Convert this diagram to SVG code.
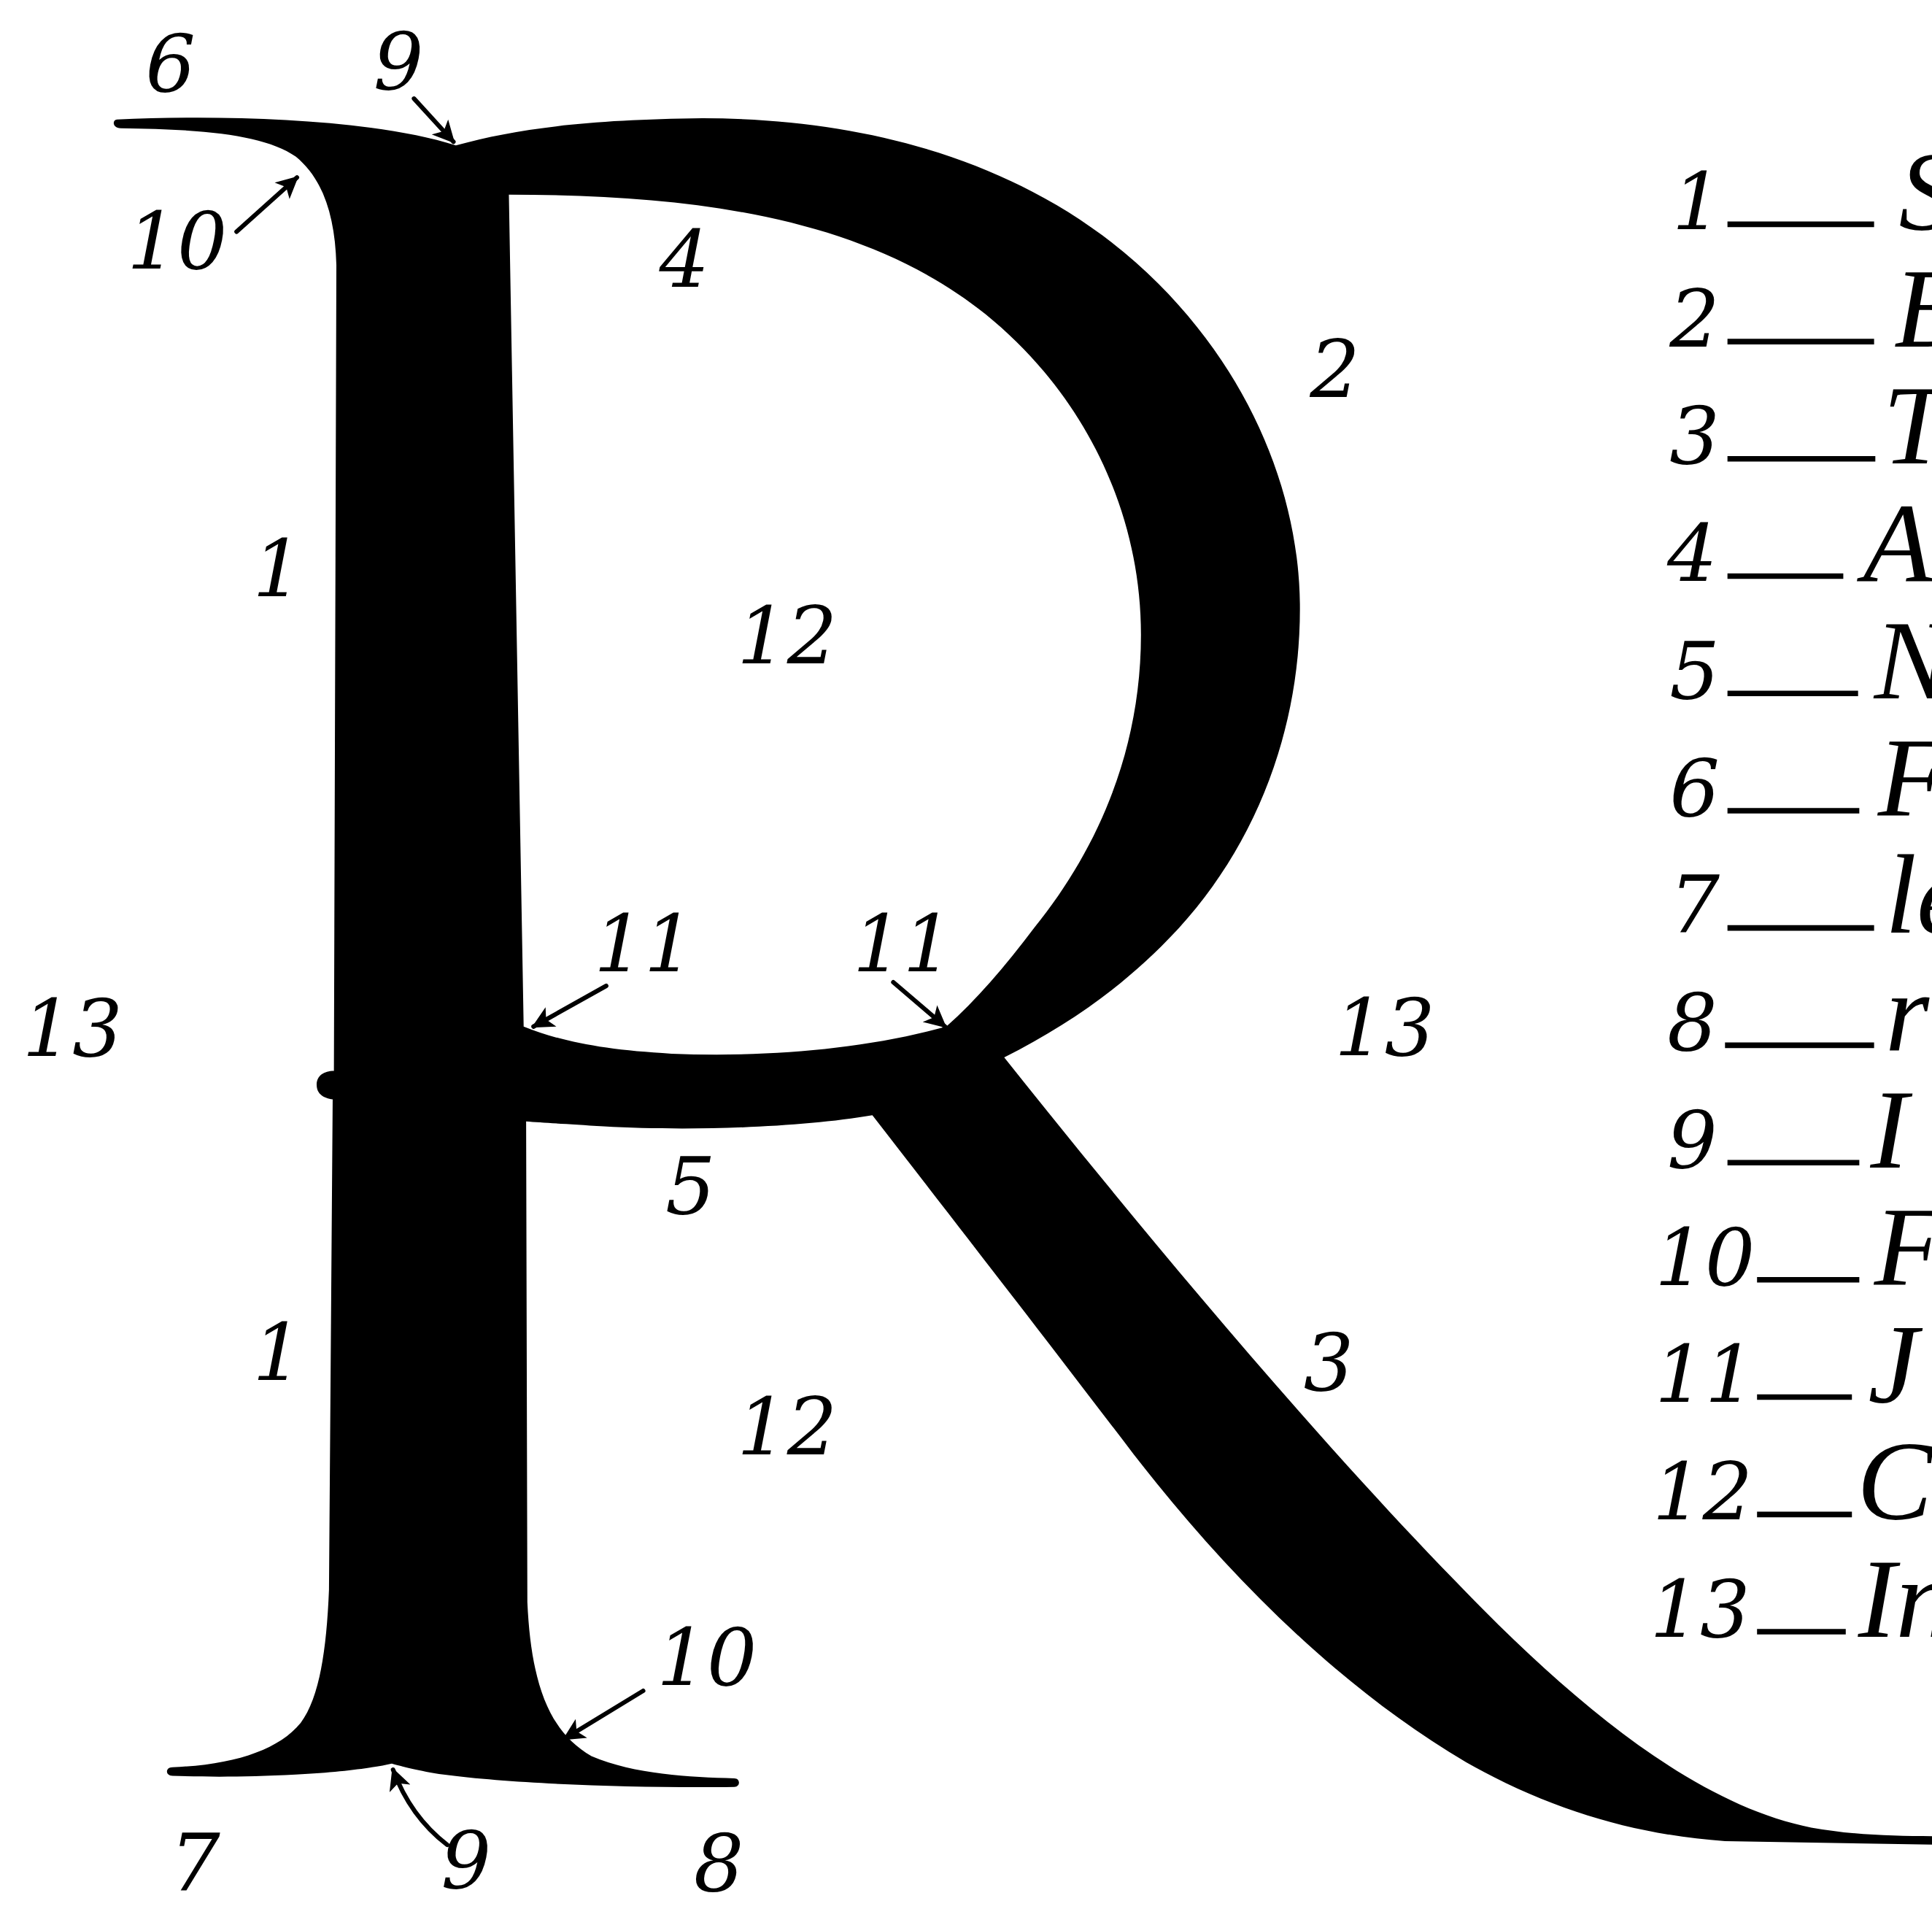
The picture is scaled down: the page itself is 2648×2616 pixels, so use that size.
<svg xmlns="http://www.w3.org/2000/svg" width="2648" height="2616" viewBox="0 0 2648 2616">
<defs>
<style>
.lbl{font-family:"DejaVu Serif","Liberation Serif",serif;font-style:italic;font-size:64px;fill:#000}
.leg{font-family:"Liberation Serif","DejaVu Serif",serif;font-style:italic;font-size:92px;fill:#000}
.arr{fill:none;stroke:#000;stroke-width:3.6;stroke-linecap:round}
.dash{stroke:#000;stroke-width:4.5;stroke-linecap:butt}
</style>
<marker id="ah" viewBox="0 0 10 10" refX="9" refY="5" markerWidth="6.5" markerHeight="5" orient="auto" markerUnits="strokeWidth">
<path d="M0,0 L10,5 L0,10 L2.5,5 z" fill="#000"/>
</marker>
</defs>
<rect width="2648" height="2616" fill="#fff"/>
<g transform="scale(1.68878)">
<g id="letter-R">
<path fill="#000" fill-rule="evenodd" d="M 95,97 C 180,93 300,96 370,118 C 420,104 480,97 570,96 C 720,96 850,140 940,230 C 1015,305 1054,400 1055,490 C 1056,590 1020,685 955,755 C 915,798 870,830 815,858 C 940,1015 1075,1175 1190,1292 C 1285,1390 1380,1465 1470,1483 C 1510,1490 1545,1490 1580,1490 L 1580,1497 L 1400,1494 C 1330,1489 1260,1470 1190,1430 C 1080,1365 990,1270 920,1180 C 840,1075 770,985 708,905 C 650,915 560,918 490,914 C 460,912 440,911 427,910 L 428,1300 C 431,1365 445,1405 480,1425 C 515,1440 560,1442 596,1443 C 601,1443 601,1450 596,1450 C 520,1451 420,1448 360,1440 C 340,1437 325,1433 318,1431 C 305,1434 280,1438 240,1440 C 200,1442 170,1442 140,1441 C 134,1441 134,1434 140,1434 C 190,1432 226,1420 244,1398 C 259,1378 265,1340 267,1290 L 270,892 C 263,891 257,888 257,880 C 257,873 263,869 271,869 L 273,215 C 272,175 262,145 240,127 C 215,110 170,105 98,104 C 91,104 91,97 95,97 Z M 413,158 C 560,158 700,175 800,255 C 880,320 926,415 926,515 C 926,610 890,690 840,752 C 815,785 792,812 768,833 C 700,852 620,858 545,855 C 490,852 455,845 425,833 Z"/>
</g>
<g id="connectors">
<path id="arrow-9-top" class="arr" marker-end="url(#ah)" d="M 336,80 L 368,115"/>
<path id="arrow-10-top" class="arr" marker-end="url(#ah)" d="M 192,188 L 241,144"/>
<path id="arrow-11-left" class="arr" marker-end="url(#ah)" d="M 492,800 L 433,833"/>
<path id="arrow-11-right" class="arr" marker-end="url(#ah)" d="M 725,797 L 767,833"/>
<path id="arrow-10-bottom" class="arr" marker-end="url(#ah)" d="M 522,1372 L 458,1411"/>
<path id="arrow-9-bottom" class="arr" marker-end="url(#ah)" d="M 363,1497 Q 333,1474 319,1436"/>
</g>
<g id="labels">
<g id="label-6"><text class="lbl" x="118" y="74">6</text></g>
<g id="label-9-top"><text class="lbl" x="303" y="72">9</text></g>
<g id="label-10-top"><text class="lbl" x="103" y="218">10</text></g>
<g id="label-4"><text class="lbl" x="535" y="233">4</text></g>
<g id="label-2"><text class="lbl" x="1063" y="322">2</text></g>
<g id="label-1-top"><text class="lbl" x="205" y="484">1</text></g>
<g id="label-12-top"><text class="lbl" x="598" y="538">12</text></g>
<g id="label-11-left"><text class="lbl" x="482" y="788">11</text></g>
<g id="label-11-right"><text class="lbl" x="692" y="788">11</text></g>
<g id="label-13-left"><text class="lbl" x="18" y="857">13</text></g>
<g id="label-13-right"><text class="lbl" x="1083" y="856">13</text></g>
<g id="label-5"><text class="lbl" x="540" y="985">5</text></g>
<g id="label-1-bottom"><text class="lbl" x="205" y="1120">1</text></g>
<g id="label-12-bottom"><text class="lbl" x="598" y="1180">12</text></g>
<g id="label-3"><text class="lbl" x="1058" y="1128">3</text></g>
<g id="label-10-bottom"><text class="lbl" x="533" y="1367">10</text></g>
<g id="label-7"><text class="lbl" x="138" y="1534">7</text></g>
<g id="label-9-bottom"><text class="lbl" x="358" y="1532">9</text></g>
<g id="label-8"><text class="lbl" x="563" y="1534">8</text></g>
</g>
<g id="legend">
<g id="legend-1"><text class="lbl" x="1357" y="186">1</text><line class="dash" x1="1402" y1="182" x2="1521" y2="182"/><text class="leg" x="1541" y="186">S</text></g>
<g id="legend-2"><text class="lbl" x="1355" y="281.2">2</text><line class="dash" x1="1402" y1="277.2" x2="1521" y2="277.2"/><text class="leg" x="1537" y="281.2">B</text></g>
<g id="legend-3"><text class="lbl" x="1355" y="376.3">3</text><line class="dash" x1="1402" y1="372.3" x2="1522" y2="372.3"/><text class="leg" x="1528" y="376.3">T</text></g>
<g id="legend-4"><text class="lbl" x="1353" y="471.5">4</text><line class="dash" x1="1402" y1="467.5" x2="1496" y2="467.5"/><text class="leg" x="1512" y="471.5">A</text></g>
<g id="legend-5"><text class="lbl" x="1355" y="566.7">5</text><line class="dash" x1="1402" y1="562.7" x2="1508" y2="562.7"/><text class="leg" x="1521" y="566.7">N</text></g>
<g id="legend-6"><text class="lbl" x="1355" y="661.9">6</text><line class="dash" x1="1402" y1="657.9" x2="1509" y2="657.9"/><text class="leg" x="1524" y="661.9">F</text></g>
<g id="legend-7"><text class="lbl" x="1355" y="757">7</text><line class="dash" x1="1402" y1="753" x2="1521" y2="753"/><text class="leg" x="1530" y="757">le</text></g>
<g id="legend-8"><text class="lbl" x="1353" y="852.2">8</text><line class="dash" x1="1400" y1="848.2" x2="1521" y2="848.2"/><text class="leg" x="1530" y="852.2">ri</text></g>
<g id="legend-9"><text class="lbl" x="1353" y="947.4">9</text><line class="dash" x1="1402" y1="943.4" x2="1509" y2="943.4"/><text class="leg" x="1518" y="947.4">I</text></g>
<g id="legend-10"><text class="lbl" x="1343" y="1042.5">10</text><line class="dash" x1="1426" y1="1038.5" x2="1509" y2="1038.5"/><text class="leg" x="1521" y="1042.5">F</text></g>
<g id="legend-11"><text class="lbl" x="1343" y="1137.7">11</text><line class="dash" x1="1426" y1="1133.7" x2="1503" y2="1133.7"/><text class="leg" x="1516" y="1137.7">J</text></g>
<g id="legend-12"><text class="lbl" x="1341" y="1232.9">12</text><line class="dash" x1="1426" y1="1228.9" x2="1503" y2="1228.9"/><text class="leg" x="1507" y="1232.9">Co</text></g>
<g id="legend-13"><text class="lbl" x="1339" y="1328">13</text><line class="dash" x1="1426" y1="1324" x2="1498" y2="1324"/><text class="leg" x="1508" y="1328">In</text></g>
</g>
</g>
</svg>
